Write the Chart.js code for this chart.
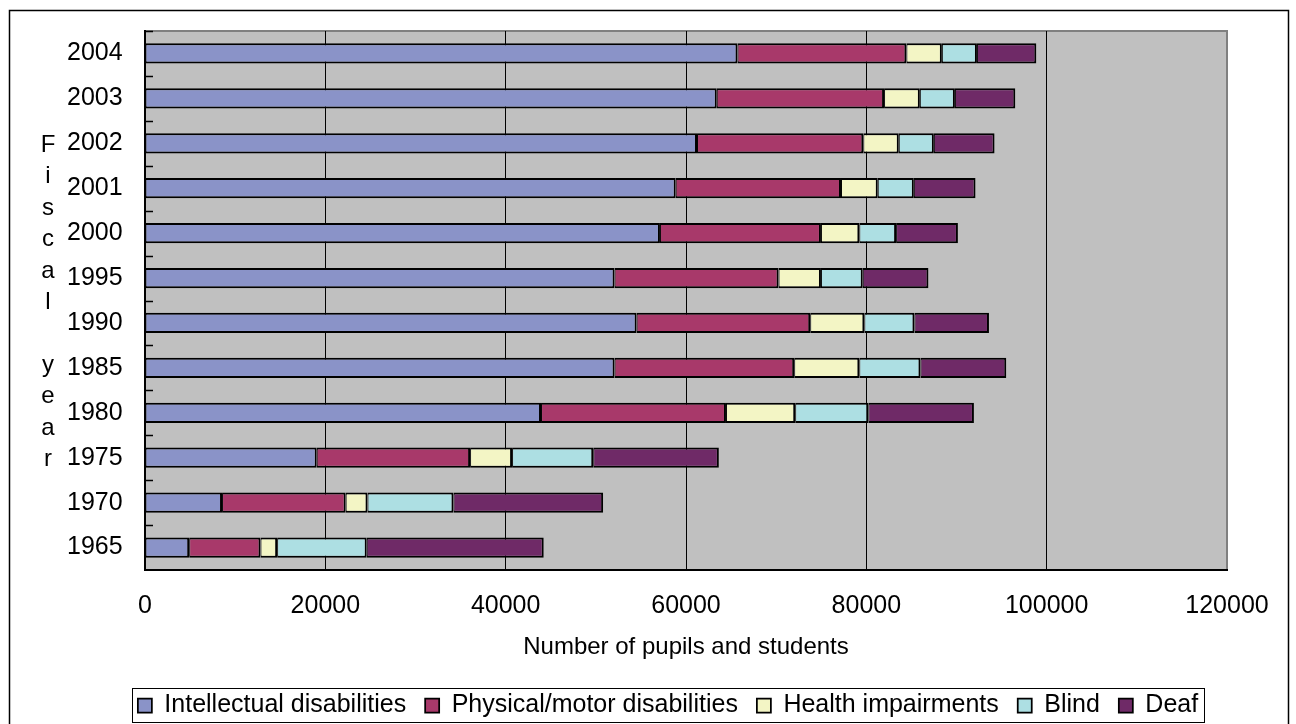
<!DOCTYPE html>
<html>
<head>
<meta charset="utf-8">
<script src="https://cdn.jsdelivr.net/npm/chart.js@4/dist/chart.umd.min.js"></script>
<style>
  html, body { margin: 0; padding: 0; background: #fff; }
  #wrap { width: 1296px; height: 724px; position: relative; }
</style>
</head>
<body>
<div id="wrap"><canvas id="c" width="1296" height="724"></canvas></div>
<script>
// Fiscal years (chronological)
const years = ['1965', '1970', '1975', '1980', '1985', '1990', '1995', '2000', '2001', '2002', '2003', '2004'];

// Number of pupils and students per category
const intellectual = [4900, 8544, 19044, 43922, 52078, 54522, 52078, 57111, 58856, 61222, 63411, 65711];
const physical     = [7911, 13711, 17011, 20511, 19922, 19256, 18189, 17856, 18333, 18444, 18556, 18733];
const health       = [1844, 2422, 4656, 7678, 7222, 6000, 4700, 4256, 4078, 3933, 3967, 3933];
const blind        = [9933, 9533, 9000, 8111, 6778, 5556, 4633, 4078, 4000, 3889, 3889, 3889];
const deaf         = [19633, 16600, 13933, 11711, 9522, 8267, 7289, 6856, 6844, 6733, 6700, 6589];

const seriesNames = ['Intellectual disabilities', 'Physical/motor disabilities', 'Health impairments', 'Blind', 'Deaf'];
const seriesColors = ['#8A93C8', '#A8396A', '#F3F5C5', '#ADDFE3', '#6F2A67'];
const seriesValues = [intellectual, physical, health, blind, deaf];

const xTicks = [0, 20000, 40000, 60000, 80000, 100000, 120000];
const xTitle = 'Number of pupils and students';
const yTitle = 'Fiscal year';

const FONT = "'Liberation Sans', Arial, sans-serif";
Chart.defaults.color = '#000';
Chart.defaults.font.family = FONT;

const plotBg = {
  id: 'plotBg',
  beforeDraw(chart) {
    const {ctx, chartArea: a} = chart;
    ctx.save();
    ctx.fillStyle = '#C0C0C0';
    ctx.fillRect(a.left, a.top, a.right - a.left, a.bottom - a.top);
    ctx.strokeStyle = '#808080';
    ctx.lineWidth = 2;
    ctx.beginPath();
    ctx.moveTo(a.left, a.top);
    ctx.lineTo(a.right, a.top);
    ctx.lineTo(a.right, a.bottom);
    ctx.stroke();
    ctx.restore();
  },
  afterDraw(chart) {
    const {ctx, chartArea: a} = chart;
    const ys = chart.scales.y;
    ctx.save();
    // outer frame
    ctx.strokeStyle = '#000';
    ctx.lineWidth = 1.5;
    ctx.strokeRect(9.5, 10.5, 1279, 740);
    // inward category tick marks on the left edge
    ctx.lineWidth = 1.5;
    const n = years.length;
    const step = Math.abs(ys.getPixelForValue(1) - ys.getPixelForValue(0));
    for (let i = 0; i < n; i++) {
      const yb = ys.getPixelForValue(i) - step / 2;
      ctx.beginPath();
      ctx.moveTo(a.left, Math.round(yb) + 0.5);
      ctx.lineTo(a.left + 8, Math.round(yb) + 0.5);
      ctx.stroke();
    }
    // stacked y-axis title letters
    const chars = yTitle.split('');
    const y0 = ys.getPixelForValue(years.indexOf('2002'));
    const y1 = ys.getPixelForValue(years.indexOf('1975'));
    const st = (y1 - y0) / (chars.length - 1);
    ctx.fillStyle = '#000';
    ctx.font = '24px ' + FONT;
    ctx.textAlign = 'center';
    ctx.textBaseline = 'middle';
    chars.forEach((ch, i) => { if (ch !== ' ') ctx.fillText(ch, 48, y0 + i * st + 2); });
    // legend frame
    const lg = chart.legend;
    if (lg && lg.legendHitBoxes && lg.legendHitBoxes.length) {
      const hb = lg.legendHitBoxes;
      const l = hb[0].left - 6;
      const r = hb[hb.length - 1].left + hb[hb.length - 1].width + 6;
      const cy = hb[0].top + hb[0].height / 2;
      ctx.lineWidth = 1;
      ctx.strokeStyle = '#000';
      ctx.strokeRect(Math.round(l) + 0.5, Math.round(cy - 18) + 0.5, Math.round(r - l), 34);
    }
    ctx.restore();
  }
};

const datasets = seriesNames.map((name, i) => ({
  label: name,
  data: seriesValues[i],
  backgroundColor: seriesColors[i],
  borderColor: '#000',
  borderWidth: {top: 2, bottom: 2, left: 1, right: 2},
  borderSkipped: false,
  barPercentage: 0.45,
  categoryPercentage: 1.0
}));

new Chart(document.getElementById('c'), {
  type: 'bar',
  data: { labels: years, datasets },
  plugins: [plotBg],
  options: {
    indexAxis: 'y',
    responsive: false,
    animation: false,
    layout: { padding: { left: 109, right: 69, top: 31, bottom: -4 } },
    plugins: {
      title: { display: false },
      tooltip: { enabled: false },
      legend: {
        display: true,
        position: 'bottom',
        labels: {
          font: { size: 25, family: FONT },
          color: '#000',
          boxWidth: 14,
          boxHeight: 14,
          padding: 19
        }
      }
    },
    scales: {
      x: {
        stacked: true,
        min: 0,
        max: 120000,
        afterBuildTicks(scale) { scale.ticks = xTicks.map(v => ({ value: v })); },
        afterFit(scale) { scale.height = 104; },
        ticks: {
          font: { size: 25, family: FONT },
          color: '#000',
          padding: 21,
          maxRotation: 0,
          callback: (v) => String(v)
        },
        grid: {
          drawTicks: false,
          color: (ctx) => (ctx.tick && ctx.tick.value === 120000) ? '#808080' : (ctx.tick && ctx.tick.value === 0 ? 'rgba(0,0,0,0)' : '#000'),
          lineWidth: 1
        },
        border: { display: true, color: '#000', width: 2 },
        title: {
          display: true,
          text: xTitle,
          font: { size: 24, family: FONT },
          color: '#000',
          padding: { top: 0, bottom: 12 }
        }
      },
      y: {
        stacked: true,
        reverse: true,
        afterFit(scale) { scale.width = 36; },
        ticks: {
          font: { size: 25, family: FONT },
          color: '#000',
          mirror: true,
          crossAlign: 'near',
          padding: -78
        },
        grid: { display: false, drawTicks: false },
        border: { display: true, color: '#000', width: 2 }
      }
    }
  }
});
</script>
</body>
</html>
